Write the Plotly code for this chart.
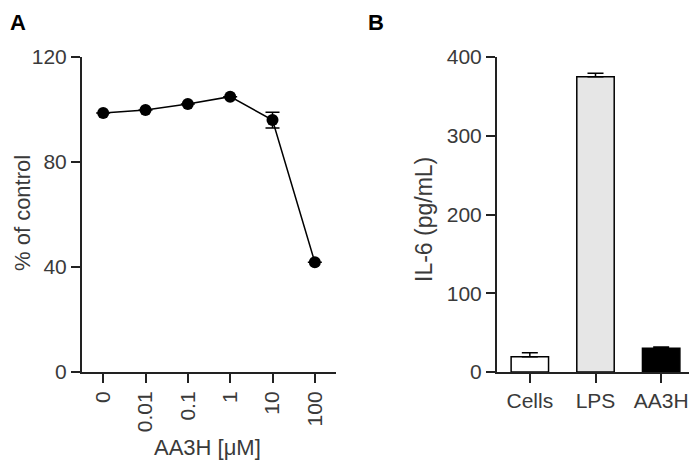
import plotly.graph_objects as go

# Panel A data
conc_labels = ["0", "0.01", "0.1", "1", "10", "100"]
viability = [98.7, 99.8, 102.1, 104.9, 96.0, 41.8]
viability_err = [0, 0, 0, 0, 3.0, 0]

# Panel B data
groups = ["Cells", "LPS", "AA3H"]
il6 = [19.5, 375.0, 30.2]
il6_err = [5.0, 4.5, 1.5]
bar_colors = ["#ffffff", "#e6e6e6", "#000000"]

OFF = 8  # page body margin
W, H = 689, 456
# target plot area in window pixels: x 82..694, y 57..372
L = 82 - OFF
T = 57 - OFF
R = W - (694 - OFF)
B = H - (372 - OFF)
PW = W - L - R
PH = H - T - B

def px_x(x):
    return (x - OFF - L) / PW

def px_y(y):
    return (H - B - (y - OFF)) / PH

FONT = "Liberation Sans, Arial, sans-serif"
TXT = "#3a3a3a"
FS = 21

fig = go.Figure()

fig.add_trace(go.Scatter(
    x=list(range(len(conc_labels))), y=viability,
    mode="lines+markers",
    line=dict(color="black", width=1.5),
    marker=dict(color="black", size=12),
    error_y=dict(type="data", array=viability_err, color="black", thickness=1.5, width=7),
    xaxis="x", yaxis="y", cliponaxis=False, showlegend=False,
))

fig.add_trace(go.Bar(
    x=list(range(len(groups))), y=il6,
    marker=dict(color=bar_colors, line=dict(color="black", width=1.5)),
    width=0.57,
    error_y=dict(type="data", array=il6_err, arrayminus=[0, 0, 0], symmetric=False,
                 color="black", thickness=1.5, width=8),
    xaxis="x2", yaxis="y2", showlegend=False,
))

axis_common = dict(
    showgrid=False, zeroline=False, showline=True, linecolor="#222", linewidth=2,
    ticks="outside", ticklen=9, tickwidth=1.5, tickcolor="#222",
    tickfont=dict(family=FONT, size=FS, color=TXT),
)

def label(text, x, y, size=FS, color=TXT, angle=0, xa="center", ya="middle"):
    return dict(text=text, x=px_x(x), y=px_y(y), xref="paper", yref="paper",
                xanchor=xa, yanchor=ya, textangle=angle, borderpad=0,
                showarrow=False, font=dict(family=FONT, size=size, color=color))

fig.update_layout(
    width=W, height=H,
    margin=dict(l=L, r=R, t=T, b=B, pad=0),
    paper_bgcolor="white", plot_bgcolor="white",
    xaxis=dict(domain=[0, px_x(336)], range=[-0.5, 5.5],
               tickmode="array", tickvals=list(range(len(conc_labels))), ticktext=conc_labels,
               tickangle=-90, anchor="y", **axis_common),
    yaxis=dict(domain=[0, 1], range=[0, 120], tickvals=[0, 40, 80, 120],
               anchor="x", **axis_common),
    xaxis2=dict(domain=[px_x(497), 1], range=[-0.5, 2.5],
                tickmode="array", tickvals=list(range(len(groups))), ticktext=groups,
                anchor="y2", **axis_common),
    yaxis2=dict(domain=[0, 1], range=[0, 400], tickvals=[0, 100, 200, 300, 400],
                anchor="x2", **axis_common),
    annotations=[
        label("<b>A</b>", 9, 8.5, size=22, color="black", xa="left", ya="top"),
        label("<b>B</b>", 376, 8.5, size=22, color="black", ya="top"),
        label("% of control", 8.5, 213, size=22, angle=-90, xa="left"),
        label("IL-6 (pg/mL)", 424, 220, size=23, angle=-90),
        label("AA3H [μM]", 207, 447, size=22),
    ],
)

fig.write_html("out.html")
